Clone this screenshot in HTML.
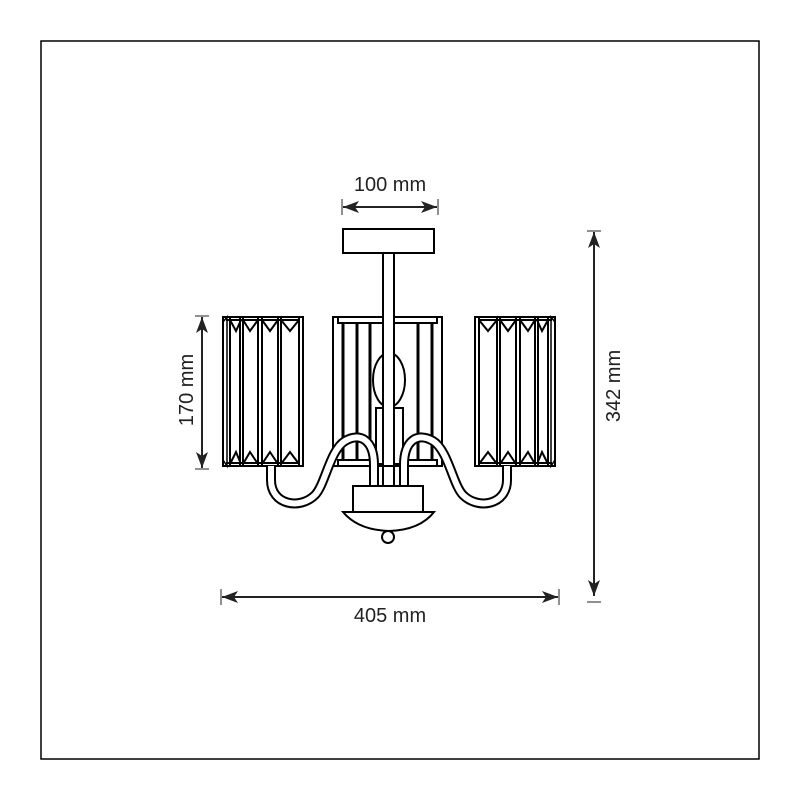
<!DOCTYPE html>
<html><head><style>html,body{margin:0;padding:0;background:#fff}svg{display:block}</style></head>
<body>
<svg width="800" height="800" viewBox="0 0 800 800" xmlns="http://www.w3.org/2000/svg" font-family="Liberation Sans, sans-serif">
<defs>
<marker id="a" markerWidth="16" markerHeight="12" refX="16" refY="6" orient="auto-start-reverse" markerUnits="userSpaceOnUse">
<path d="M0,0 L16,6 L0,12 L4,6 Z" fill="#222"/></marker>
<g id="shadeL">
<rect x="223" y="317" width="80" height="149" fill="#fff" stroke="#000" stroke-width="2"/>
<path d="M223,322 L227,317 L227,466 L223,460" fill="none" stroke="#000" stroke-width="1.5"/>
<g stroke="#000" stroke-width="2" fill="none">
<line x1="230" y1="317" x2="230" y2="466"/><line x1="240" y1="317" x2="240" y2="466"/>
<line x1="243" y1="317" x2="243" y2="466"/><line x1="258" y1="317" x2="258" y2="466"/>
<line x1="262" y1="317" x2="262" y2="466"/><line x1="278" y1="317" x2="278" y2="466"/>
<line x1="281" y1="317" x2="281" y2="466"/><line x1="299" y1="317" x2="299" y2="466"/>
<path d="M230,320 L236,331 L241,320 M243,320 L250,331 L258,320 M262,320 L270,331 L278,320 M281,320 L290,331 L299,320"/>
<path d="M230,464 L236,452 L241,464 M243,464 L250,452 L258,464 M262,464 L270,452 L278,464 M281,464 L290,452 L299,464"/>
<line x1="226" y1="320" x2="300" y2="320"/><line x1="226" y1="463" x2="300" y2="463"/>
</g></g>
</defs>
<rect x="41" y="41" width="718" height="718" fill="#fff" stroke="#000" stroke-width="1.5"/>

<g stroke="#000" stroke-width="2" fill="#fff">
<rect x="333" y="317" width="109" height="149"/>
<rect x="338" y="317" width="99" height="6"/>
<rect x="338" y="460" width="99" height="6"/>
</g>
<g stroke="#000" stroke-width="3">
<line x1="343" y1="323" x2="343" y2="460"/><line x1="357" y1="323" x2="357" y2="460"/>
<line x1="370" y1="323" x2="370" y2="460"/><line x1="418" y1="323" x2="418" y2="460"/>
<line x1="432" y1="323" x2="432" y2="460"/>
</g>
<ellipse cx="389" cy="380" rx="16" ry="27" fill="#fff" stroke="#000" stroke-width="2"/>
<rect x="376" y="408" width="27" height="56" fill="#fff" stroke="#000" stroke-width="2"/>
<rect x="343" y="229" width="91" height="24" fill="#fff" stroke="#000" stroke-width="2"/>
<rect x="383" y="253" width="11" height="234" fill="#fff" stroke="#000" stroke-width="2"/>
<rect x="383" y="466" width="11" height="20" fill="#fff" stroke="#000" stroke-width="2"/>

<use href="#shadeL"/>
<use href="#shadeL" transform="translate(778,0) scale(-1,1)"/>

<g fill="none">
<path d="M271,466 L271,480 C271,505 300,510 315,495 C325,485 330,450 345,441 C360,432 374,440 374,465 L374,487" stroke="#000" stroke-width="10"/>
<path d="M271,466 L271,480 C271,505 300,510 315,495 C325,485 330,450 345,441 C360,432 374,440 374,465 L374,487" stroke="#fff" stroke-width="6"/>
<g transform="translate(778,0) scale(-1,1)">
<path d="M271,466 L271,480 C271,505 300,510 315,495 C325,485 330,450 345,441 C360,432 374,440 374,465 L374,487" stroke="#000" stroke-width="10"/>
<path d="M271,466 L271,480 C271,505 300,510 315,495 C325,485 330,450 345,441 C360,432 374,440 374,465 L374,487" stroke="#fff" stroke-width="6"/>
</g></g>

<rect x="353" y="486" width="70" height="26" fill="#fff" stroke="#000" stroke-width="2"/>
<path d="M343,512 L434,512 Q420,530 389,531 Q358,530 343,512 Z" fill="#fff" stroke="#000" stroke-width="2"/>
<circle cx="388" cy="537" r="6" fill="#fff" stroke="#000" stroke-width="2"/>

<g stroke="#222" stroke-width="2" fill="none">
<line x1="343" y1="207" x2="437" y2="207" marker-start="url(#a)" marker-end="url(#a)"/>
<line x1="342" y1="199" x2="342" y2="215" stroke-width="1"/><line x1="438" y1="199" x2="438" y2="215" stroke-width="1"/>
<line x1="222" y1="597" x2="558" y2="597" marker-start="url(#a)" marker-end="url(#a)"/>
<line x1="221" y1="589" x2="221" y2="605" stroke-width="1"/><line x1="559" y1="589" x2="559" y2="605" stroke-width="1"/>
<line x1="594" y1="232" x2="594" y2="596" marker-start="url(#a)" marker-end="url(#a)"/>
<line x1="587" y1="231" x2="601" y2="231" stroke-width="1"/><line x1="587" y1="602" x2="601" y2="602" stroke-width="1"/>
<line x1="202" y1="317" x2="202" y2="468" marker-start="url(#a)" marker-end="url(#a)"/>
<line x1="195" y1="316" x2="209" y2="316" stroke-width="1"/><line x1="195" y1="469" x2="209" y2="469" stroke-width="1"/>
</g>
<g fill="#222" font-size="20" text-anchor="middle">
<text x="390" y="191">100 mm</text>
<text x="390" y="622">405 mm</text>
<text transform="translate(620,386) rotate(-90)">342 mm</text>
<text transform="translate(193,390) rotate(-90)">170 mm</text>
</g>
</svg>
</body></html>
